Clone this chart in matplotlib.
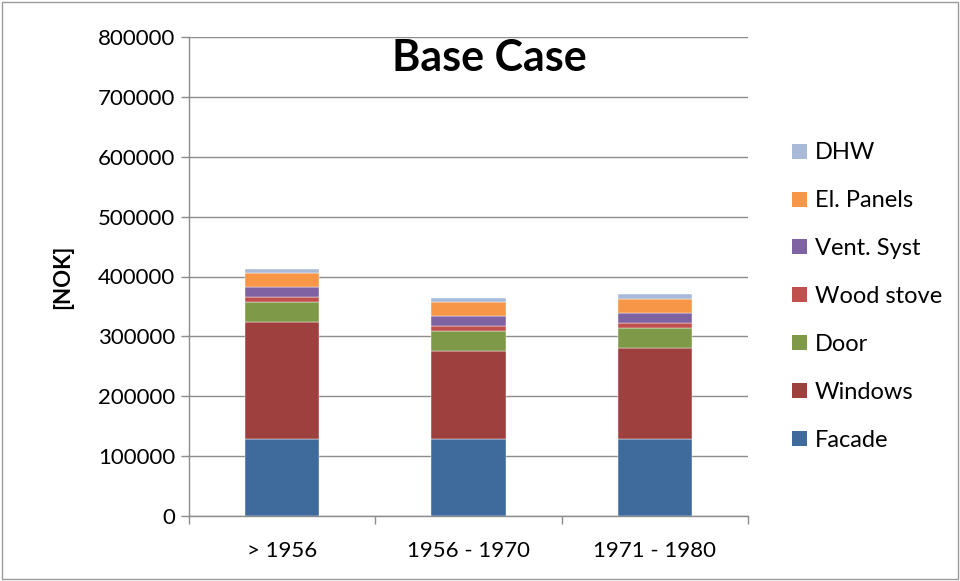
import matplotlib
matplotlib.use("Agg")
import matplotlib.pyplot as plt
from matplotlib.patches import Rectangle, Patch
import numpy as np

plt.rcParams['font.family'] = ['Lato', 'DejaVu Sans']

categories = ["> 1956", "1956 - 1970", "1971 - 1980"]
series_names = ["Facade", "Windows", "Door", "Wood stove", "Vent. Syst", "El. Panels", "DHW"]
facade = [128000, 128000, 128000]
windows = [196000, 147000, 152500]
door = [33400, 33900, 33400]
wood_stove = [7900, 7800, 7800]
vent_syst = [17700, 17700, 17700]
el_panels = [22300, 22400, 23400]
dhw = [7200, 7700, 7900]
colors = ['#3F6A9C', '#9E403E', '#7E9A48', '#C0504D', '#7E62A1', '#F79646', '#A9BAD8']

values = [facade, windows, door, wood_stove, vent_syst, el_panels, dhw]

fig = plt.figure(figsize=(9.6, 5.81), dpi=100)
ax = fig.add_axes([189/960, 1-516/581, (748-189)/960, (516-37)/581])

x = np.arange(len(categories))
bottom = np.zeros(len(categories))
for name, vals, c in zip(series_names, values, colors):
    ax.bar(x, vals, width=0.4, bottom=bottom, color=c, label=name,
           edgecolor='white', linewidth=0.3, zorder=3)
    bottom += np.array(vals)

ax.set_xlim(-0.5, 2.5)
ax.set_ylim(0, 800000)
ax.set_yticks(np.arange(0, 800001, 100000))
ax.set_yticklabels([str(v) for v in range(0, 800001, 100000)], fontsize=16)
ax.yaxis.grid(True, color='#8c8c8c', linewidth=1.0, zorder=0)
ax.set_axisbelow(True)

ax.set_xticks(x)
ax.set_xticklabels(categories, fontsize=16)
ax.tick_params(axis='x', length=0, pad=18)
ax.set_xticks([-0.5, 0.5, 1.5, 2.5], minor=True)
ax.tick_params(axis='x', which='minor', length=6, color='#8c8c8c', width=1)
ax.tick_params(axis='y', length=6, color='#8c8c8c', width=1, pad=4)

for s in ['top', 'right']:
    ax.spines[s].set_visible(False)
for s in ['left', 'bottom']:
    ax.spines[s].set_color('#8c8c8c')
    ax.spines[s].set_linewidth(1.0)

ax.set_ylabel('[NOK]', fontsize=16, fontweight='bold', labelpad=18)

fig.text(489/960, 1-58/581, 'Base Case', fontsize=31, fontweight='bold',
         ha='center', va='center')

leg_handles = [Patch(facecolor=c, edgecolor='none') for c in colors][::-1]
leg = fig.legend(leg_handles, series_names[::-1], loc='upper left',
                 bbox_to_anchor=(783/960, 1-133/581), frameon=False, fontsize=17,
                 handlelength=0.6, handleheight=0.6, handletextpad=0.35,
                 labelspacing=1.14, borderaxespad=0)

fig.patches.append(Rectangle((0.002, 0.003), 0.996, 0.994, transform=fig.transFigure,
                             fill=False, edgecolor='#9a9a9a', linewidth=1.0))

fig.savefig('out.png', dpi=100)
